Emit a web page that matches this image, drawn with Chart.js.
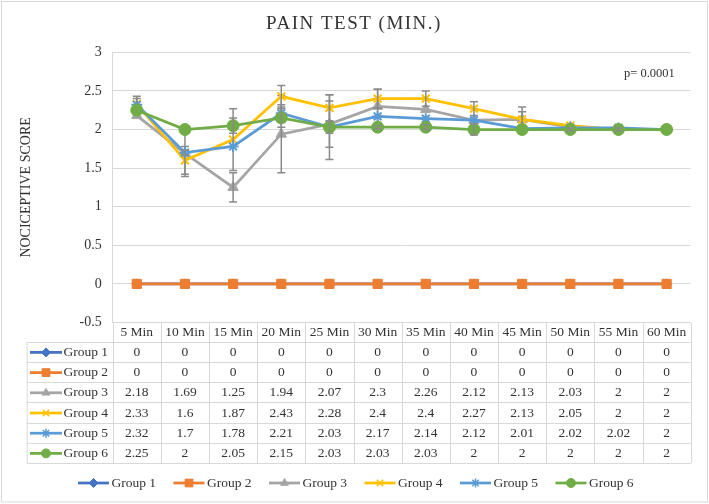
<!DOCTYPE html>
<html><head><meta charset="utf-8">
<script src="https://cdn.jsdelivr.net/npm/chart.js@4.4.1/dist/chart.umd.min.js"></script>
<style>html,body{margin:0;padding:0;background:#fff;}#wrap{width:709px;height:504px;}</style>
</head><body><div id="wrap"><canvas id="c" width="709" height="504"></canvas></div>
<script>
const categories = ['5 Min','10 Min','15 Min','20 Min','25 Min','30 Min','35 Min','40 Min','45 Min','50 Min','55 Min','60 Min'];
const seriesNames = ['Group 1','Group 2','Group 3','Group 4','Group 5','Group 6'];
const group1 = [0,0,0,0,0,0,0,0,0,0,0,0];
const group2 = [0,0,0,0,0,0,0,0,0,0,0,0];
const group3 = [2.18,1.69,1.25,1.94,2.07,2.3,2.26,2.12,2.13,2.03,2,2];
const group4 = [2.33,1.6,1.87,2.43,2.28,2.4,2.4,2.27,2.13,2.05,2,2];
const group5 = [2.32,1.7,1.78,2.21,2.03,2.17,2.14,2.12,2.01,2.02,2.02,2];
const group6 = [2.25,2,2.05,2.15,2.03,2.03,2.03,2,2,2,2,2];
// estimated error-bar half widths (null = none visible)
const err1 = [null,null,null,null,null,null,null,null,null,null,null,null];
const err2 = [null,null,null,null,null,null,null,null,null,null,null,null];
const err3 = [null,0.30,0.19,0.5,0.3,0.22,null,null,0.1,null,null,null];
const err4 = [0.1,0.18,0.4,0.14,0.17,0.12,0.1,0.09,0.16,null,null,null];
const err5 = [0.08,0.03,null,0.11,0.42,null,null,null,null,null,null,null];
const err6 = [null,null,0.1,0.12,0.08,0.02,0.03,0.07,null,0.02,0.02,null];
const yTicks = [-0.5,0,0.5,1,1.5,2,2.5,3];
const chartTitle = 'PAIN TEST (MIN.)';
const yTitle = 'NOCICEPTIVE SCORE';
const pText = 'p= 0.0001';

const seriesValues = [group1,group2,group3,group4,group5,group6];
const seriesErrors = [err1,err2,err3,err4,err5,err6];
const colors = ['#4472C4','#ED7D31','#A5A5A5','#FFC000','#5B9BD5','#70AD47'];
const pStyles = ['rectRot','rect','triangle','crossRot','star','circle'];
const pRadius = [5,6.5,6,5.5,5.5,6];
const FONT = '"Liberation Serif", "Times New Roman", serif';
const TXT = '#333333';
const GRID = '#d9d9d9';

const datasets = seriesNames.map((n,i)=>({
  label:n, data:seriesValues[i], borderColor:colors[i], backgroundColor:colors[i],
  pointStyle:pStyles[i], pointRadius:pRadius[i], pointBorderColor:colors[i],
  pointBackgroundColor:colors[i], pointBorderWidth:(pStyles[i]==='crossRot'||pStyles[i]==='star')?2:1,
  borderWidth:2.75, tension:0, order:5-i, fill:false
}));

function drawMarker(ctx, i, x, y, r){
  ctx.save();
  ctx.fillStyle = colors[i]; ctx.strokeStyle = colors[i];
  ctx.lineWidth = (pStyles[i]==='crossRot'||pStyles[i]==='star')?1.5:1;
  Chart.helpers.drawPoint(ctx, {pointStyle:pStyles[i], radius:r, rotation:0, borderWidth:ctx.lineWidth}, x, y);
  ctx.restore();
}
function drawKey(ctx, i, x0, x1, y){
  ctx.save();
  ctx.strokeStyle = colors[i]; ctx.lineWidth = 2.75;
  ctx.beginPath(); ctx.moveTo(x0,y); ctx.lineTo(x1,y); ctx.stroke();
  ctx.restore();
  drawMarker(ctx, i, (x0+x1)/2, y, i===1?5.5:4.5);
}

const extras = {
  id:'extras',
  afterDatasetDraw(chart, args){
    const i = args.index; const errs = seriesErrors[i];
    const ys = chart.scales.y; const ctx = chart.ctx;
    ctx.save();
    ctx.strokeStyle = '#8a8a8a'; ctx.lineWidth = 1.5;
    args.meta.data.forEach((pt,j)=>{
      const e = errs[j]; if (e==null) return;
      const v = seriesValues[i][j];
      const t = ys.getPixelForValue(v+e), b = ys.getPixelForValue(v-e);
      ctx.beginPath();
      ctx.moveTo(pt.x,t); ctx.lineTo(pt.x,b);
      ctx.moveTo(pt.x-4,t); ctx.lineTo(pt.x+4,t);
      ctx.moveTo(pt.x-4,b); ctx.lineTo(pt.x+4,b);
      ctx.stroke();
    });
    ctx.restore();
  },
  afterDraw(chart){
    const ctx = chart.ctx; const ca = chart.chartArea;
    const xs = chart.scales.x;
    ctx.save();
    // outer border
    ctx.strokeStyle = GRID; ctx.lineWidth = 1;
    ctx.strokeRect(1.5,1.5,706,500.5);
    // title
    ctx.fillStyle = TXT;
    ctx.font = '19px ' + FONT;
    ctx.textAlign = 'center'; ctx.textBaseline = 'middle';
    if ('letterSpacing' in ctx) ctx.letterSpacing = '1.5px';
    ctx.fillText(chartTitle, 354, 24);
    if ('letterSpacing' in ctx) ctx.letterSpacing = '0px';
    // p value
    ctx.font = '12.5px ' + FONT;
    ctx.textAlign = 'left';
    ctx.fillText(pText, 624, 73.5);
    // data table
    const n = categories.length;
    const colW = (ca.right - ca.left)/n;
    const headTop = ca.bottom, headH = 19.3, rowH = 20.2;
    const tblLeft = 26.7;
    const tblBottom = headTop + headH + rowH*seriesNames.length;
    ctx.strokeStyle = GRID; ctx.lineWidth = 1;
    ctx.beginPath();
    for (let k=0;k<=n;k++){ const x = Math.round(ca.left + k*colW)+0.5; ctx.moveTo(x,headTop); ctx.lineTo(x,tblBottom); }
    ctx.moveTo(tblLeft+0.5, headTop+headH); ctx.lineTo(tblLeft+0.5, tblBottom);
    for (let r=0;r<=seriesNames.length;r++){ const y = Math.round(headTop+headH+r*rowH)+0.5; ctx.moveTo(tblLeft,y); ctx.lineTo(ca.right,y); }
    ctx.stroke();
    ctx.fillStyle = TXT; ctx.font = '13.5px ' + FONT;
    ctx.textAlign = 'center'; ctx.textBaseline = 'middle';
    categories.forEach((c,k)=>{ ctx.fillText(c, xs.getPixelForValue(k), headTop+headH/2+0.5); });
    seriesNames.forEach((s,i)=>{
      const yc = headTop+headH+rowH*i+rowH/2+0.5;
      seriesValues[i].forEach((v,k)=>{ ctx.fillStyle = TXT; ctx.textAlign='center'; ctx.fillText(String(v), xs.getPixelForValue(k), yc); });
      drawKey(ctx, i, 30, 62, yc);
      ctx.fillStyle = TXT; ctx.textAlign = 'left'; ctx.font = '13.5px ' + FONT;
      ctx.fillText(s, 63.5, yc);
    });
    // legend
    seriesNames.forEach((s,i)=>{
      const x0 = 78 + i*95.5, yc = 483;
      drawKey(ctx, i, x0, x0+31, yc);
      ctx.fillStyle = TXT; ctx.textAlign = 'left'; ctx.font = '13.5px ' + FONT; ctx.textBaseline='middle';
      ctx.fillText(s, x0+33.5, yc);
    });
    ctx.restore();
  }
};

new Chart(document.getElementById('c'), {
  type:'line',
  data:{labels:categories, datasets},
  options:{
    responsive:false, animation:false,
    layout:{padding:{left:0, top:52.3, right:18.3, bottom:181.5}},
    plugins:{legend:{display:false}, tooltip:{enabled:false}, title:{display:false}},
    scales:{
      x:{type:'category', display:false, offset:true},
      y:{min:-0.5, max:3,
        afterFit(s){ s.width = 112.7; },
        afterBuildTicks(s){ s.ticks = yTicks.map(v=>({value:v})); },
        ticks:{padding:11, color:TXT, font:{family:FONT, size:14}, callback:(v)=>String(v)},
        grid:{color:GRID, drawTicks:false, lineWidth:1},
        border:{display:true, color:GRID, width:1},
        title:{display:true, text:yTitle, color:TXT, font:{family:FONT, size:14}, padding:{top:18, bottom:0}}
      }
    }
  },
  plugins:[extras]
});
</script></body></html>
